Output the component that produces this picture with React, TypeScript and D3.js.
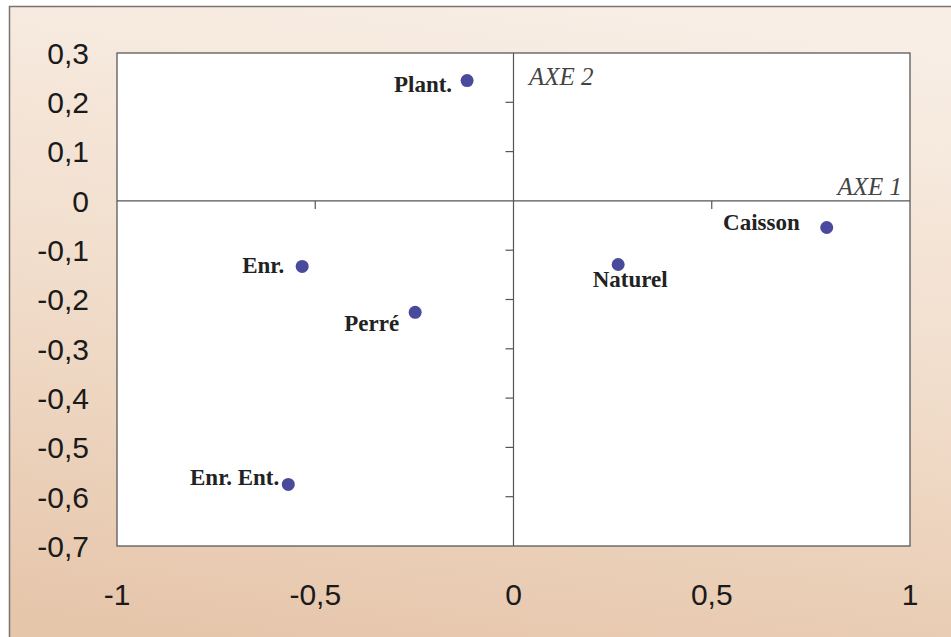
import React from "react";
import * as d3 from "d3";

const categories = ["Plant.", "Caisson", "Naturel", "Enr.", "Perré", "Enr. Ent."];
const axis1Values = [-0.117, 0.79, 0.264, -0.533, -0.248, -0.568];
const axis2Values = [0.244, -0.054, -0.129, -0.133, -0.226, -0.575];
// label offsets relative to the point (dx, dy) and anchor
const labelDx = [-15, -27, 12, -18, -16, -9];
const labelDy = [11, 2, 23, 7, 19, 1];
const labelAnchor = ["end", "end", "middle", "end", "end", "end"];

const xTickLabels = [-1, -0.5, 0, 0.5, 1];
const yTickLabels = [0.3, 0.2, 0.1, 0, -0.1, -0.2, -0.3, -0.4, -0.5, -0.6, -0.7];
const xAxisTicks = [-0.5, 0.5];
const yAxisTicks = [0.2, 0.1, -0.1, -0.2, -0.3, -0.4, -0.5, -0.6];

const W = 951;
const H = 637;

export default function App() {
  const x = d3.scaleLinear().domain([-1, 1]).range([117, 910]);
  const y = d3.scaleLinear().domain([-0.7, 0.3]).range([546, 53]);
  const locale = d3.formatLocale({
    decimal: ",",
    thousands: " ",
    grouping: [3],
    currency: ["", "€"],
    minus: "-",
  });
  const fmt = locale.format("~g");
  const x0 = x(0);
  const y0 = y(0);

  return (
    <svg
      width={W}
      height={H}
      style={{ position: "absolute", left: 0, top: 0, display: "block" }}
    >
      <defs>
        <linearGradient id="bg" x1="0.6" y1="0" x2="0.4" y2="1">
          <stop offset="0" stopColor="#f8eee5" />
          <stop offset="0.5" stopColor="#f1ddcb" />
          <stop offset="1" stopColor="#e6c6ab" />
        </linearGradient>
      </defs>
      <rect x={0} y={0} width={W} height={H} fill="#ffffff" />
      <rect x={9.5} y={6.5} width={W + 20} height={H + 20} fill="url(#bg)" stroke="#7a7470" strokeWidth={1.5} />
      <rect
        x={x(-1)}
        y={y(0.3)}
        width={x(1) - x(-1)}
        height={y(-0.7) - y(0.3)}
        fill="#ffffff"
        stroke="#5a5a5a"
        strokeWidth={1.3}
      />
      {/* axis lines */}
      <line x1={x(-1)} x2={x(1)} y1={y0} y2={y0} stroke="#555" strokeWidth={1.2} />
      <line x1={x0} x2={x0} y1={y(0.3)} y2={y(-0.7)} stroke="#555" strokeWidth={1.2} />
      {xAxisTicks.map((t) => (
        <line key={"xt" + t} x1={x(t)} x2={x(t)} y1={y0} y2={y0 + 8} stroke="#555" strokeWidth={1.2} />
      ))}
      {yAxisTicks.map((t) => (
        <line key={"yt" + t} x1={x0 - 8} x2={x0} y1={y(t)} y2={y(t)} stroke="#555" strokeWidth={1.2} />
      ))}
      {/* tick labels */}
      {yTickLabels.map((t) => (
        <text
          key={"yl" + t}
          x={89}
          y={y(t)}
          dy="0.36em"
          textAnchor="end"
          fontFamily="Arial, 'Liberation Sans', sans-serif"
          fontSize={30}
          fill="#1a1a1a"
        >
          {fmt(t)}
        </text>
      ))}
      {xTickLabels.map((t) => (
        <text
          key={"xl" + t}
          x={x(t)}
          y={605}
          textAnchor="middle"
          fontFamily="Arial, 'Liberation Sans', sans-serif"
          fontSize={30}
          fill="#1a1a1a"
        >
          {fmt(t)}
        </text>
      ))}
      {/* axis names */}
      <text
        x={529}
        y={85}
        fontFamily="'Times New Roman', 'Liberation Serif', serif"
        fontStyle="italic"
        fontSize={25}
        fill="#444"
      >
        AXE 2
      </text>
      <text
        x={902}
        y={195}
        textAnchor="end"
        fontFamily="'Times New Roman', 'Liberation Serif', serif"
        fontStyle="italic"
        fontSize={25}
        fill="#444"
      >
        AXE 1
      </text>
      {/* points */}
      {categories.map((c, i) => (
        <g key={c}>
          <circle cx={x(axis1Values[i])} cy={y(axis2Values[i])} r={6.5} fill="#4a4a9c" />
          <text
            x={x(axis1Values[i]) + labelDx[i]}
            y={y(axis2Values[i]) + labelDy[i]}
            textAnchor={labelAnchor[i]}
            fontFamily="'Times New Roman', 'Liberation Serif', serif"
            fontWeight="bold"
            fontSize={23}
            fill="#222"
          >
            {c}
          </text>
        </g>
      ))}
    </svg>
  );
}
